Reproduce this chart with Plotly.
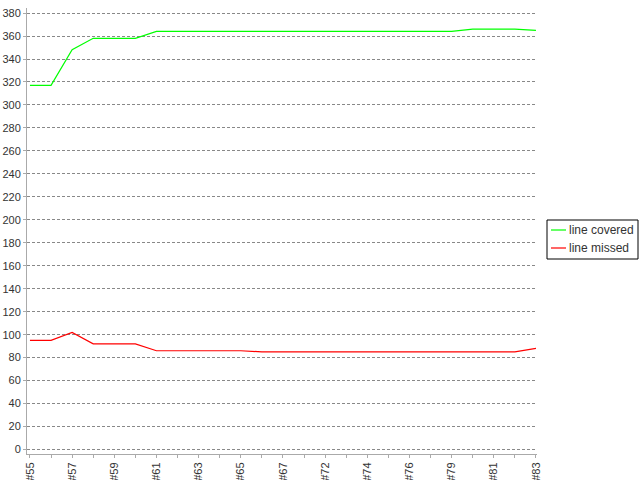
import plotly.graph_objects as go

categories = ["#55", "#56", "#57", "#58", "#59", "#60", "#61", "#62", "#63", "#64",
              "#65", "#66", "#67", "#70", "#72", "#73", "#74", "#75", "#76", "#78",
              "#79", "#80", "#81", "#82", "#83"]
line_covered = [317, 317, 348, 358, 358, 358, 364, 364, 364, 364,
                364, 364, 364, 364, 364, 364, 364, 364, 364, 364,
                364, 366, 366, 366, 365]
line_missed = [95, 95, 102, 92, 92, 92, 86, 86, 86, 86,
               86, 85, 85, 85, 85, 85, 85, 85, 85, 85,
               85, 85, 85, 85, 88]
tick_labels = [c if i % 2 == 0 else "" for i, c in enumerate(categories)]
y_ticks = list(range(0, 381, 20))
series = [("line covered", line_covered, "#00ff00"),
          ("line missed", line_missed, "#ff0000")]

# plot area in pixels
L, R, T, B = 27, 537, 8, 454
W, H = R - L, B - T


def px(x):
    return (x - L) / W


def py(y):
    return (B - y) / H


fig = go.Figure()
shapes = [dict(type="rect", xref="paper", yref="paper",
               x0=px(547), x1=px(638), y0=py(259), y1=py(220),
               line=dict(color="black", width=1), fillcolor="white")]
annotations = []
for k, (name, vals, color) in enumerate(series):
    fig.add_trace(go.Scatter(x=categories, y=vals, mode="lines", name=name,
                             line=dict(color=color, width=1.2)))
    yy = 230 + 18 * k
    shapes.append(dict(type="line", xref="paper", yref="paper",
                       x0=px(551), x1=px(566), y0=py(yy), y1=py(yy),
                       line=dict(color=color, width=1.2)))
    annotations.append(dict(xref="paper", yref="paper", x=px(567), y=py(yy),
                            xanchor="left", yanchor="middle", text=name,
                            showarrow=False,
                            font=dict(size=12, color="#333")))

font = "Liberation Sans, Arial, sans-serif"
fig.update_layout(
    width=640, height=480,
    margin=dict(l=L, r=640 - R, t=T, b=480 - B, autoexpand=False),
    paper_bgcolor="white", plot_bgcolor="white",
    font=dict(family=font, size=11, color="#333"),
    showlegend=False,
    shapes=shapes, annotations=annotations,
    xaxis=dict(type="category", range=[-0.14, 24.05],
               tickmode="array", tickvals=categories, ticktext=tick_labels,
               tickangle=-90, showgrid=False, showline=True, linecolor="#aaa",
               linewidth=1, ticks="outside", ticklen=3, tickcolor="#aaa",
               automargin=False, tickfont=dict(size=11, color="#333")),
    yaxis=dict(range=[-3.9, 384.4], tickmode="array", tickvals=y_ticks,
               showgrid=True, gridcolor="#888", griddash="3px,2px", gridwidth=1,
               showline=True, linecolor="#aaa", linewidth=1, zeroline=False,
               ticks="outside", ticklen=3, tickcolor="#aaa",
               automargin=False, tickfont=dict(size=11, color="#333")),
)

fig.write_html("out.html", config={"displayModeBar": False},
               post_script="document.body.style.margin='0';document.body.style.padding='0';")
